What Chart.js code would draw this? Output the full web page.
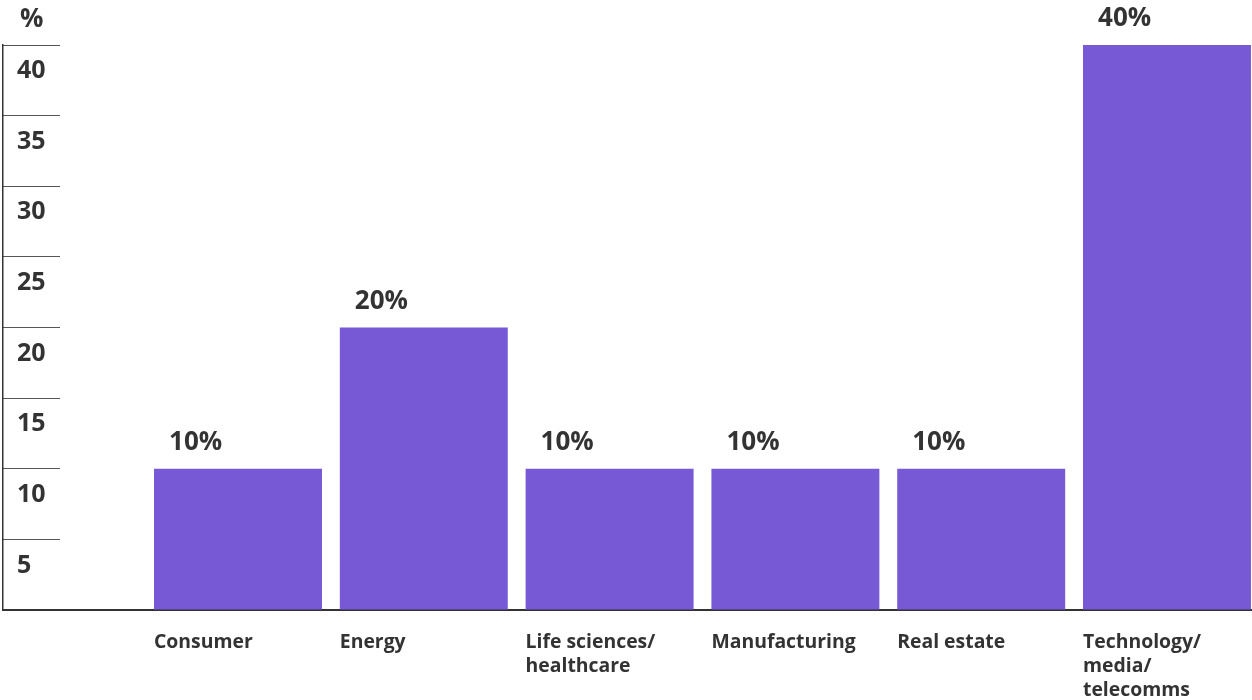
<!DOCTYPE html>
<html>
<head>
<meta charset="utf-8">
<script src="https://cdn.jsdelivr.net/npm/chart.js@4/dist/chart.umd.min.js"></script>
<style>
html,body{margin:0;padding:0;background:#ffffff;overflow:hidden}
#wrap{width:1252px;height:700px;position:relative}
</style>
</head>
<body>
<div id="wrap"><canvas id="c"></canvas></div>
<script>
// ---- data ----
const categories = [
  ['Consumer'],
  ['Energy'],
  ['Life sciences/', 'healthcare'],
  ['Manufacturing'],
  ['Real estate'],
  ['Technology/', 'media/', 'telecomms']
];
const values = [10, 20, 10, 10, 10, 40];
const yTickValues = [0, 5, 10, 15, 20, 25, 30, 35, 40];
const unitLabel = '%';

// ---- styling / layout constants ----
const TEXT = '#333333';
const BAR = '#7759D6';
const FONT = '"Open Sans", "Noto Sans", sans-serif';
const X_MIN = -1.2648;
const X_MAX = 5.4575;

const points = values.map((v, i) => ({ x: i, y: v }));

const valueLabels = {
  id: 'valueLabels',
  afterDatasetsDraw(chart) {
    const ctx = chart.ctx;
    const meta = chart.getDatasetMeta(0);
    ctx.save();
    ctx.font = 'bold 26px ' + FONT;
    ctx.fillStyle = TEXT;
    ctx.textAlign = 'left';
    ctx.textBaseline = 'alphabetic';
    meta.data.forEach((bar, i) => {
      ctx.fillText(values[i] + '%', bar.x - bar.width / 2 + 15, bar.y - 19);
    });
    ctx.fillText(unitLabel, chart.chartArea.left + 17, chart.chartArea.top - 18);
    ctx.restore();
  }
};

new Chart(document.getElementById('c'), {
  type: 'bar',
  data: {
    datasets: [{
      data: points,
      backgroundColor: BAR,
      borderWidth: 0,
      barPercentage: 0.904,
      categoryPercentage: 1
    }]
  },
  options: {
    responsive: true,
    maintainAspectRatio: false,
    devicePixelRatio: 1,
    animation: false,
    layout: { padding: { top: 45, left: 0, right: 0, bottom: 0 } },
    plugins: { legend: { display: false }, tooltip: { enabled: false }, title: { display: false } },
    scales: {
      x: {
        type: 'linear',
        offset: false,
        bounds: 'data',
        min: X_MIN,
        max: X_MAX,
        afterBuildTicks(scale) {
          scale.ticks = categories.map((_, i) => ({ value: i }));
        },
        afterFit(scale) {
          scale.height = 90;
          scale.paddingLeft = 0;
          scale.paddingRight = 0;
        },
        grid: { display: false, drawTicks: false },
        border: { display: true, color: '#333333', width: 2 },
        ticks: {
          autoSkip: false,
          maxRotation: 0,
          minRotation: 0,
          align: 'start',
          labelOffset: -84,
          padding: 21,
          color: TEXT,
          font: { family: FONT, size: 19.4, weight: 'bold', lineHeight: 1.22 },
          callback: (v) => categories[v] || ''
        }
      },
      y: {
        min: 0,
        max: 40,
        afterBuildTicks(scale) {
          scale.ticks = yTickValues.map(v => ({ value: v }));
        },
        afterFit(scale) {
          scale.width = 3;
          scale.paddingTop = 0;
          scale.paddingBottom = 0;
        },
        grid: {
          display: true,
          drawOnChartArea: false,
          drawTicks: true,
          tickLength: -57,
          color: '#555555',
          lineWidth: 1
        },
        border: { display: true, color: '#333333', width: 1.5 },
        ticks: {
          mirror: true,
          padding: 14,
          labelOffset: 26,
          color: TEXT,
          font: { family: FONT, size: 25, weight: 'bold' },
          callback: (v) => (v === 0 ? '' : String(v))
        }
      }
    }
  },
  plugins: [valueLabels]
});
</script>
</body>
</html>
